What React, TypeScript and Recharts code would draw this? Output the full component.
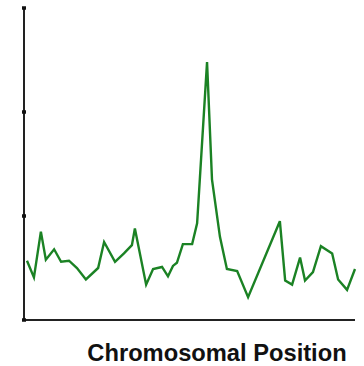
import React from 'react';
import { LineChart, Line, XAxis, YAxis } from 'recharts';

// position along the chromosome (arbitrary units, 0-100)
const positions = [
  0.9, 3.0, 5.1, 6.6, 9.1, 11.2, 13.6, 16.0, 18.7, 22.4, 24.2, 27.5, 30.2, 32.6,
  33.5, 36.9, 39.0, 41.7, 43.5, 45.0, 46.2, 48.0, 50.8, 52.3, 55.3, 56.8, 59.2,
  61.3, 64.4, 67.7, 77.3, 78.9, 81.0, 83.4, 84.9, 87.3, 89.7, 93.1, 94.9, 97.6,
  100,
];

const scores = [
  0.57, 0.41, 0.85, 0.58, 0.68, 0.56, 0.57, 0.5, 0.39, 0.5, 0.75, 0.56, 0.64,
  0.72, 0.88, 0.34, 0.49, 0.51, 0.42, 0.52, 0.55, 0.73, 0.73, 0.93, 2.48, 1.35,
  0.8, 0.49, 0.47, 0.22, 0.95, 0.38, 0.34, 0.6, 0.38, 0.46, 0.71, 0.64, 0.39,
  0.29, 0.49,
];

const yTicks = [0, 1, 2, 3];

const data = positions.map((pos, i) => ({ pos, score: scores[i] }));

const App: React.FC = () => {
  return (
    <div style={{ position: 'absolute', left: 0, top: 0, width: 364, height: 366, background: '#fff' }}>
      <LineChart
        width={364}
        height={366}
        data={data}
        margin={{ top: 8, right: 9, bottom: 0, left: 0 }}
      >
        <XAxis
          dataKey="pos"
          type="number"
          domain={[0, 100]}
          ticks={[]}
          tickLine={false}
          height={46}
          axisLine={{ stroke: '#222', strokeWidth: 2 }}
          label={() => (
            <text
              x={217}
              y={361}
              textAnchor="middle"
              fontFamily="'Liberation Sans', Arial, sans-serif"
              fontWeight="bold"
              fontSize={23.7}
              fill="#111"
            >
              Chromosomal Position
            </text>
          )}
        />
        <YAxis
          type="number"
          domain={[0, 3]}
          ticks={yTicks}
          width={24}
          tickSize={4}
          tickFormatter={() => ''}
          tickLine={{ stroke: '#111', strokeWidth: 3.5, transform: 'translate(2,0)' }}
          axisLine={{ stroke: '#222', strokeWidth: 2 }}
        />
        <Line
          type="linear"
          dataKey="score"
          stroke="#1b8224"
          strokeWidth={2.4}
          dot={false}
          isAnimationActive={false}
        />
      </LineChart>
    </div>
  );
};

export default App;
